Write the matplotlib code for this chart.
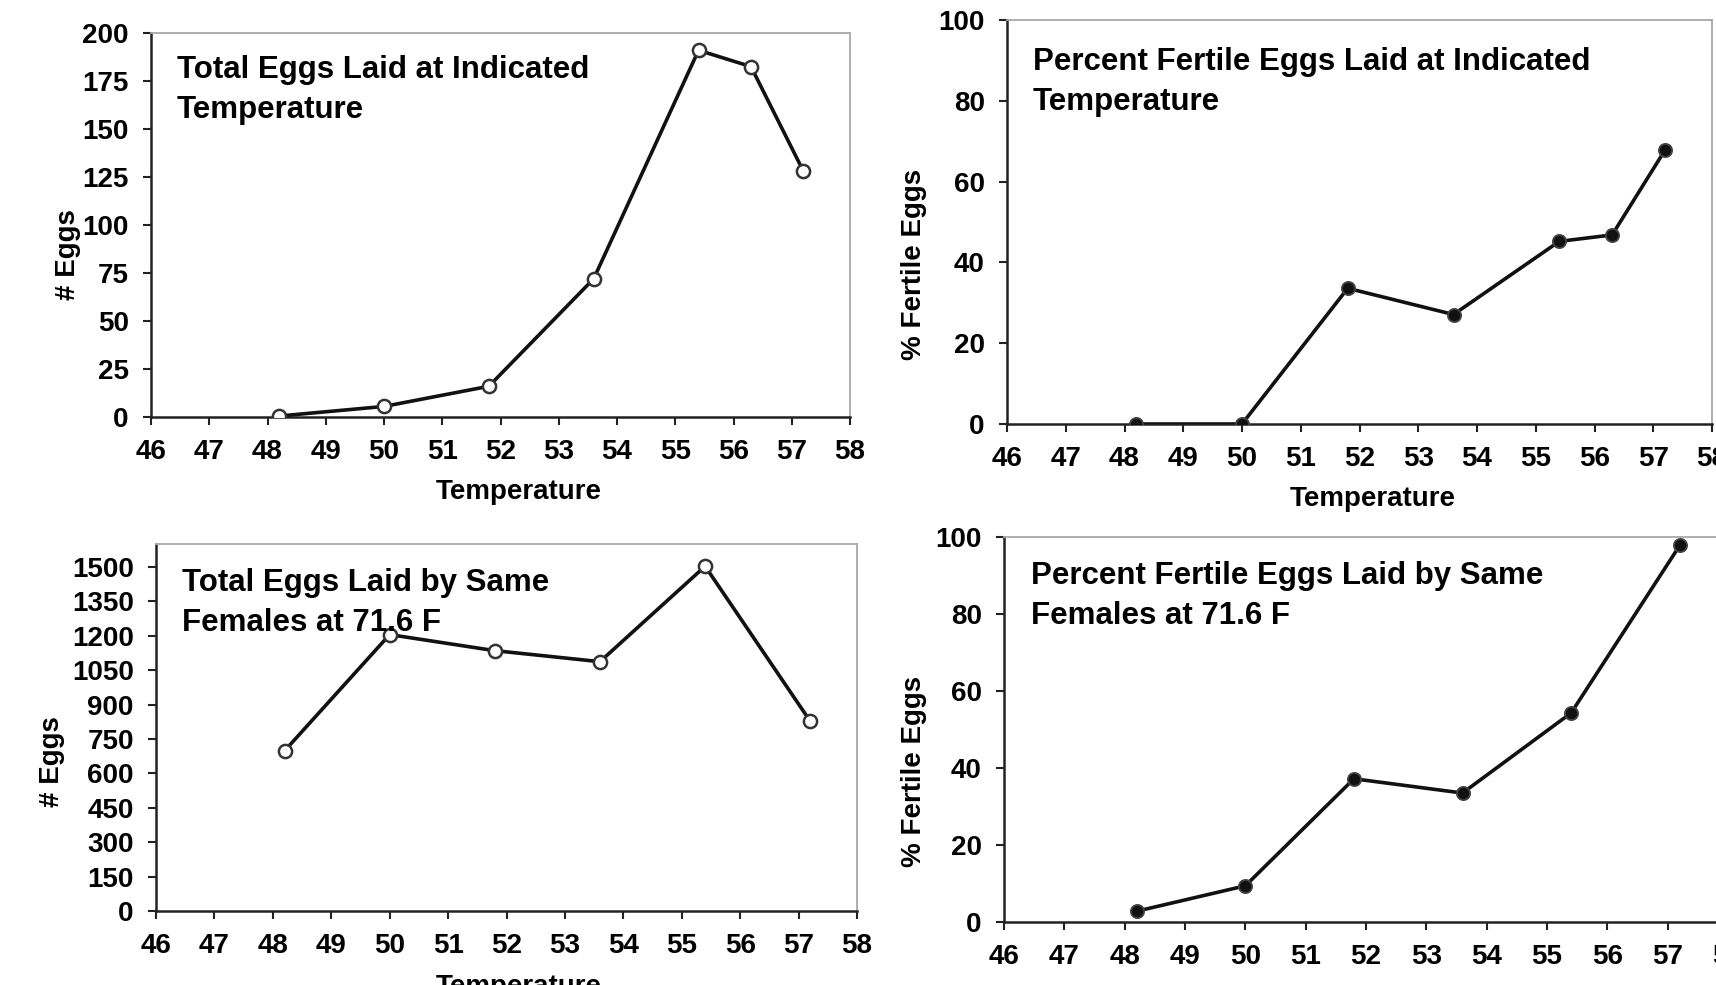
import matplotlib
matplotlib.use("Agg")
import matplotlib.pyplot as plt

plt.rcParams["font.family"] = ["Liberation Sans", "DejaVu Sans"]
plt.rcParams["font.weight"] = "bold"

# ---- data ----
temps_a = [48.2, 50.0, 51.8, 53.6, 55.4, 56.3, 57.2]
total_eggs = [0.5, 5.5, 16, 72, 191, 182.5, 128]
pct_fertile = [0, 0, 33.6, 27.1, 45.2, 46.8, 67.8]

temps_b = [48.2, 50.0, 51.8, 53.6, 55.4, 57.2]
total_eggs_716 = [698, 1205, 1135, 1087, 1503, 827]
pct_fertile_716 = [2.8, 9.4, 37.2, 33.5, 54.3, 97.8]

xticks = list(range(46, 59))
W, H = 1716, 985


def px_axes(fig, left, top, right, bottom):
    return fig.add_axes([left / W, 1 - bottom / H, (right - left) / W, (bottom - top) / H])


def style(ax, ylim, yticks, ylabel, title, title_y, ylab_xy, xlab_xy):
    ax.set_xlim(46, 58)
    ax.set_ylim(*ylim)
    ax.set_xticks(xticks)
    ax.set_yticks(yticks)
    ax.tick_params(axis="both", direction="out", length=6, width=1.5,
                   labelsize=20, pad=10, color="#222222")
    for s in ("left", "bottom"):
        ax.spines[s].set_color("#222222")
        ax.spines[s].set_linewidth(1.8)
    for s in ("top", "right"):
        ax.spines[s].set_color("#a8a8a8")
        ax.spines[s].set_linewidth(1.3)
    ax.set_xlabel("Temperature", fontsize=20, fontweight="bold")
    ax.set_ylabel(ylabel, fontsize=20, fontweight="bold")
    ax.yaxis.set_label_coords(*ylab_xy)
    ax.xaxis.set_label_coords(*xlab_xy)
    ax.text(0.037, title_y, title, transform=ax.transAxes, ha="left", va="top",
            fontsize=22.5, fontweight="bold", linespacing=1.42)


fig = plt.figure(figsize=(W / 100, H / 100), dpi=100)

open_mk = dict(color="#111111", lw=2.6, marker="o", ms=9.5,
               mfc="white", mec="#333333", mew=1.8, zorder=3)
solid_mk = dict(color="#111111", lw=2.6, marker="o", ms=9.5,
                mfc="#111111", mec="#444444", mew=1.3, zorder=3)

# top left: total eggs
ax1 = px_axes(fig, 151, 33, 850, 417)
ax1.plot(temps_a, total_eggs, **open_mk)
style(ax1, (0, 200), range(0, 201, 25), "# Eggs",
      "Total Eggs Laid at Indicated\nTemperature", 0.943,
      (-0.100, 0.424), (0.526, -0.161))

# top right: percent fertile
ax2 = px_axes(fig, 1007, 20, 1712, 424)
ax2.plot(temps_a, pct_fertile, **solid_mk)
style(ax2, (0, 100), range(0, 101, 20), "% Fertile Eggs",
      "Percent Fertile Eggs Laid at Indicated\nTemperature", 0.933,
      (-0.113, 0.396), (0.519, -0.153))

# bottom left: total eggs at 71.6 F
ax3 = px_axes(fig, 156, 544, 857, 911)
ax3.plot(temps_b, total_eggs_716, **open_mk)
style(ax3, (0, 1600), range(0, 1501, 150), "# Eggs",
      "Total Eggs Laid by Same\nFemales at 71.6 F", 0.935,
      (-0.130, 0.406), (0.518, -0.171))

# bottom right: percent fertile at 71.6 F
ax4 = px_axes(fig, 1004, 537, 1728, 922)
ax4.plot(temps_b, pct_fertile_716, **solid_mk)
style(ax4, (0, 100), range(0, 101, 20), "% Fertile Eggs",
      "Percent Fertile Eggs Laid by Same\nFemales at 71.6 F", 0.937,
      (-0.106, 0.39), (0.51, -0.164))

fig.savefig("out.png", dpi=100)
